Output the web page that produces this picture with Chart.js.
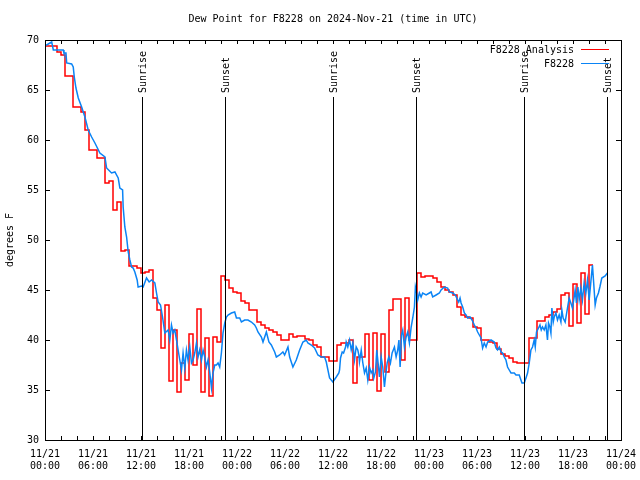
<!DOCTYPE html>
<html>
<head>
<meta charset="utf-8">
<title>Dew Point for F8228</title>
<script src="https://cdn.jsdelivr.net/npm/chart.js@4.4.1/dist/chart.umd.min.js"></script>
<style>
  html, body { margin: 0; padding: 0; background: #fff; }
  canvas { display: block; }
</style>
</head>
<body>
<canvas id="chart" width="640" height="480"></canvas>
<script>
// x values are hours since 11/21 00:00 UTC
const xTickLabels = [
  ['11/21', '00:00'], ['11/21', '06:00'], ['11/21', '12:00'], ['11/21', '18:00'],
  ['11/22', '00:00'], ['11/22', '06:00'], ['11/22', '12:00'], ['11/22', '18:00'],
  ['11/23', '00:00'], ['11/23', '06:00'], ['11/23', '12:00'], ['11/23', '18:00'],
  ['11/24', '00:00']
];

const sunHours = [12.1, 22.45, 36.05, 46.4, 59.9, 70.25];
const sunLabels = ['Sunrise', 'Sunset', 'Sunrise', 'Sunset', 'Sunrise', 'Sunset'];

// F8228 analysis (red, stepped), one value every half hour
const ANALYSIS_STEP = 0.5;
const analysisValues = [
  69.4, 69.4, 69.4, 69.4, 68.8, 68.5, 66.4, 66.4, 63.3, 63.3,
  62.8, 61.0, 59.0, 59.0, 58.2, 58.2, 55.7, 55.9, 53.0, 53.8,
  48.9, 49.0, 47.4, 47.4, 47.2, 46.7, 46.8, 47.0, 44.2, 43.0,
  39.2, 43.5, 35.9, 41.0, 34.8, 37.7, 36.0, 40.6, 37.5, 43.1,
  34.8, 40.2, 34.4, 40.3, 39.8, 46.4, 46.0, 45.2, 44.8, 44.7,
  43.9, 43.7, 43.0, 43.0, 41.8, 41.5, 41.2, 41.0, 40.8, 40.5,
  40.0, 40.0, 40.6, 40.3, 40.4, 40.4, 40.1, 40.0, 39.5, 39.3,
  38.3, 38.3, 37.9, 37.9, 39.5, 39.7, 39.7, 40.0, 35.7, 38.3,
  38.3, 40.6, 36.0, 40.7, 34.9, 40.6, 36.8, 43.0, 44.1, 44.1,
  38.0, 44.2, 40.0, 40.0, 46.7, 46.3, 46.4, 46.4, 46.2, 45.8,
  45.3, 45.0, 44.8, 44.5, 43.3, 42.5, 42.3, 42.2, 41.3, 41.2,
  40.0, 40.0, 39.8, 39.7, 39.1, 38.6, 38.4, 38.2, 37.8, 37.7,
  37.7, 37.7, 40.2, 40.2, 41.9, 41.9, 42.3, 42.5, 42.8, 43.1,
  44.5, 44.7, 41.4, 45.6, 41.7, 46.7, 42.6, 47.5
];

// F8228 station (blue), irregular observation times
const stationHours = [
  0.00, 0.21, 0.62, 0.84, 1.04, 2.28, 2.37, 2.62, 2.71, 3.33,
  3.53, 3.66, 3.87, 4.16, 4.58, 4.99, 5.40, 5.83, 6.24, 6.86,
  7.49, 7.70, 8.32, 8.74, 9.15, 9.36, 9.70, 9.77, 9.98, 10.20,
  10.40, 10.61, 10.82, 11.02, 11.23, 11.52, 11.64, 12.07, 12.27, 12.69,
  13.02, 13.32, 13.73, 13.94, 14.14, 14.44, 14.69, 14.98, 15.39, 15.60,
  15.81, 16.01, 16.22, 16.44, 16.64, 16.85, 17.06, 17.26, 17.47, 17.68,
  17.88, 18.10, 18.31, 18.51, 18.72, 18.93, 19.13, 19.34, 19.56, 19.76,
  19.97, 20.18, 20.38, 20.59, 20.81, 21.00, 21.22, 21.43, 21.63, 21.84,
  22.05, 22.25, 22.47, 22.68, 22.88, 23.30, 23.71, 23.93, 24.34, 24.55,
  24.96, 25.37, 25.80, 26.21, 26.42, 26.62, 27.05, 27.25, 27.67, 27.99,
  28.29, 28.71, 28.92, 29.33, 29.74, 29.95, 30.37, 30.58, 30.99, 31.41,
  31.83, 32.24, 32.66, 32.86, 33.29, 33.70, 34.11, 34.53, 34.95, 35.16,
  35.57, 35.98, 36.41, 36.73, 36.82, 36.94, 37.15, 37.32, 37.57, 37.65,
  37.85, 38.07, 38.28, 38.48, 38.69, 38.90, 39.10, 39.23, 39.31, 39.53,
  39.73, 39.94, 40.15, 40.35, 40.56, 40.77, 40.97, 41.10, 41.31, 41.47,
  41.60, 41.81, 42.02, 42.22, 42.43, 42.56, 42.77, 42.97, 43.18, 43.39,
  43.68, 43.89, 44.09, 44.24, 44.39, 44.56, 44.72, 44.93, 45.14, 45.34,
  45.55, 45.77, 45.97, 46.18, 46.30, 46.46, 46.59, 46.80, 47.01, 47.21,
  47.64, 48.05, 48.26, 48.46, 48.89, 49.30, 49.51, 49.92, 50.33, 50.55,
  50.96, 51.29, 51.58, 51.71, 51.88, 52.01, 52.21, 52.42, 52.63, 52.83,
  53.13, 53.38, 53.67, 53.88, 54.08, 54.29, 54.50, 54.70, 54.91, 55.13,
  55.33, 55.75, 56.16, 56.37, 56.57, 56.79, 57.00, 57.20, 57.41, 57.62,
  57.82, 58.03, 58.25, 58.66, 58.87, 59.28, 59.49, 59.62, 59.91, 60.12,
  60.32, 60.53, 60.74, 60.94, 61.15, 61.28, 61.44, 61.69, 61.87, 62.03,
  62.19, 62.40, 62.61, 62.81, 62.94, 63.11, 63.24, 63.36, 63.53, 63.65,
  63.86, 64.06, 64.27, 64.49, 64.61, 64.77, 65.02, 65.31, 65.52, 65.73,
  65.93, 66.15, 66.27, 66.43, 66.61, 66.77, 66.98, 67.18, 67.39, 67.61,
  67.81, 68.02, 68.23, 68.43, 68.56, 68.77, 68.93, 69.18, 69.36, 69.60,
  70.02, 70.30
];
const stationValues = [
  69.5, 69.5, 69.7, 69.8, 69.0, 69.0, 68.7, 68.7, 67.7, 67.6,
  67.3, 66.3, 65.2, 64.2, 63.3, 62.3, 61.0, 60.3, 59.7, 58.7,
  58.3, 57.2, 56.7, 56.8, 56.2, 55.2, 55.0, 53.3, 51.3, 50.3,
  48.8, 48.0, 47.3, 47.2, 46.8, 46.0, 45.3, 45.4, 45.3, 46.2,
  45.8, 46.0, 45.7, 44.7, 43.8, 43.5, 42.3, 40.7, 41.0, 40.0,
  41.5, 40.7, 41.0, 40.0, 39.0, 38.0, 37.0, 38.7, 37.2, 39.0,
  38.0, 39.3, 37.7, 38.0, 38.7, 39.7, 38.3, 39.0, 38.0, 39.0,
  38.3, 37.3, 38.0, 36.8, 35.2, 36.7, 37.5, 37.5, 37.7, 37.3,
  38.7, 40.7, 41.7, 42.3, 42.5, 42.7, 42.8, 42.2, 42.2, 41.8,
  42.0, 42.0, 41.8, 41.5, 41.2, 40.8, 40.3, 39.8, 40.8, 39.8,
  39.5, 38.8, 38.3, 38.5, 38.8, 38.5, 39.3, 38.3, 37.3, 38.0,
  39.0, 39.8, 40.0, 39.7, 39.5, 39.2, 38.5, 38.3, 38.3, 37.8,
  36.2, 35.8, 36.3, 36.7, 37.0, 38.2, 38.8, 38.7, 39.3, 39.8,
  39.3, 40.0, 39.0, 39.7, 38.0, 39.3, 39.0, 38.5, 37.8, 39.0,
  37.7, 36.7, 37.2, 36.0, 37.3, 36.7, 37.0, 36.2, 36.8, 39.0,
  38.0, 36.3, 38.3, 37.3, 35.3, 36.3, 37.7, 38.3, 37.7, 38.7,
  39.3, 38.3, 39.0, 40.0, 37.3, 40.5, 41.0, 39.3, 40.3, 40.8,
  39.7, 41.3, 42.2, 43.3, 45.3, 44.7, 44.0, 44.7, 44.3, 44.7,
  44.5, 44.7, 44.8, 44.3, 44.5, 44.7, 45.0, 45.3, 45.2, 44.8,
  44.7, 44.5, 44.0, 43.8, 44.2, 43.7, 43.3, 42.7, 42.5, 42.2,
  42.3, 42.0, 41.5, 41.2, 40.8, 40.5, 40.2, 39.2, 39.7, 39.3,
  39.8, 40.0, 39.8, 39.2, 39.0, 39.3, 38.8, 38.7, 38.3, 38.0,
  37.3, 37.0, 36.7, 36.7, 36.5, 36.5, 36.0, 35.7, 35.7, 36.2,
  36.7, 37.7, 39.0, 39.3, 40.0, 39.3, 40.8, 41.2, 41.5, 41.0,
  41.3, 41.0, 41.5, 40.0, 41.7, 41.3, 40.7, 43.2, 41.8, 42.3,
  42.7, 42.0, 42.5, 41.8, 43.0, 42.2, 41.8, 43.2, 44.2, 43.7,
  43.2, 44.3, 45.0, 43.7, 45.3, 44.0, 45.2, 44.0, 45.7, 44.7,
  46.0, 44.0, 45.8, 47.5, 46.0, 43.5, 44.2, 44.7, 45.3, 46.2,
  46.4, 46.7
];

const FONT = "'DejaVu Sans Mono', 'Liberation Mono', monospace";
Chart.defaults.font.family = FONT;
Chart.defaults.font.size = 10;
Chart.defaults.color = '#000';

const analysisPoints = analysisValues.map((v, i) => ({ x: i * ANALYSIS_STEP, y: v }));
const stationPoints = stationValues.map((v, i) => ({ x: stationHours[i], y: v }));

// gnuplot-like frame, inward ticks, sunrise/sunset lines, legend and title
const gnuplotLook = {
  id: 'gnuplotLook',
  afterDatasetsDraw(chart) {
    const { ctx, chartArea: a, scales: { x, y } } = chart;
    ctx.save();
    ctx.strokeStyle = '#000';
    ctx.fillStyle = '#000';
    ctx.lineWidth = 1;
    ctx.font = '10px ' + FONT;

    // sunrise / sunset markers
    sunHours.forEach((h, i) => {
      const px = Math.round(x.getPixelForValue(h)) + 0.5;
      ctx.beginPath();
      ctx.moveTo(px, a.top + 57);
      ctx.lineTo(px, a.bottom);
      ctx.stroke();
      ctx.save();
      ctx.translate(px + 1, a.top + 53);
      ctx.rotate(-Math.PI / 2);
      ctx.textAlign = 'left';
      ctx.textBaseline = 'middle';
      ctx.fillText(sunLabels[i], 0, 0);
      ctx.restore();
    });

    // border
    ctx.strokeRect(a.left + 0.5, a.top + 0.5, a.right - a.left, a.bottom - a.top);

    // inward ticks
    ctx.beginPath();
    for (let h = 0; h <= 72; h += 2) {
      const px = Math.round(x.getPixelForValue(h)) + 0.5;
      ctx.moveTo(px, a.bottom);
      ctx.lineTo(px, a.bottom - 4);
      ctx.moveTo(px, a.top);
      ctx.lineTo(px, a.top + 4);
    }
    for (let v = 30; v <= 70; v += 5) {
      const py = Math.round(y.getPixelForValue(v)) + 0.5;
      ctx.moveTo(a.left, py);
      ctx.lineTo(a.left + 5, py);
      ctx.moveTo(a.right, py);
      ctx.lineTo(a.right - 5, py);
    }
    ctx.stroke();

    // legend
    ctx.textAlign = 'right';
    ctx.textBaseline = 'middle';
    chart.data.datasets.forEach((ds, i) => {
      const ly = a.top + 9.5 + i * 14;
      ctx.fillText(ds.label, a.right - 47, ly + 0.5);
      ctx.strokeStyle = ds.borderColor;
      ctx.beginPath();
      ctx.moveTo(a.right - 40, ly);
      ctx.lineTo(a.right - 12, ly);
      ctx.stroke();
    });

    // title
    ctx.textAlign = 'center';
    ctx.fillText('Dew Point for F8228 on 2024-Nov-21 (time in UTC)', (a.left + a.right) / 2, 19);
    ctx.restore();
  }
};

new Chart(document.getElementById('chart'), {
  type: 'line',
  data: {
    datasets: [
      {
        label: 'F8228 Analysis',
        data: analysisPoints,
        borderColor: '#ff0000',
        borderWidth: 1.5,
        stepped: 'after',
        pointRadius: 0,
        order: 2
      },
      {
        label: 'F8228',
        data: stationPoints,
        borderColor: '#0a84f5',
        borderWidth: 1.5,
        pointRadius: 0,
        order: 1
      }
    ]
  },
  options: {
    responsive: false,
    animation: false,
    layout: { padding: { top: 40, right: 19, left: 0, bottom: 0 } },
    plugins: {
      legend: { display: false },
      title: { display: false },
      tooltip: { enabled: false }
    },
    scales: {
      x: {
        type: 'linear',
        min: 0,
        max: 72,
        afterFit: s => { s.height = 40; s.paddingLeft = 0; s.paddingRight = 0; },
        grid: { display: false, drawTicks: false },
        border: { display: false },
        ticks: {
          stepSize: 6,
          autoSkip: false,
          maxRotation: 0,
          padding: 8,
          callback: v => xTickLabels[Math.round(v / 6)]
        }
      },
      y: {
        min: 30,
        max: 70,
        afterFit: s => { s.width = 45; },
        grid: { display: false, drawTicks: false },
        border: { display: false },
        ticks: { stepSize: 5, padding: 6 },
        title: { display: true, text: 'degrees F', padding: { top: 4, bottom: 4 } }
      }
    }
  },
  plugins: [gnuplotLook]
});
</script>
</body>
</html>
